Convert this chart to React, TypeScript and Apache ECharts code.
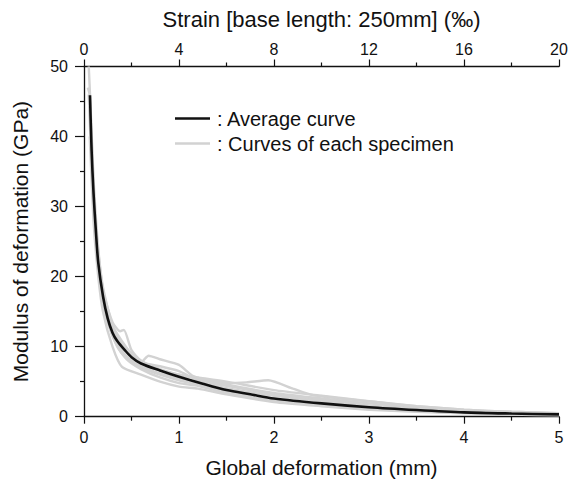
import React, { useEffect, useRef } from "react";
import * as echarts from "echarts";

const FONT = '"Liberation Sans", Arial, Helvetica, sans-serif';

// Average curve: [deformation (mm), modulus (GPa)]
const averageCurve: number[][] = [
  [0.063, 45.9], [0.08, 38], [0.1, 32], [0.125, 26.5], [0.15, 22], [0.2, 17.2],
  [0.25, 14], [0.3, 12], [0.35, 10.8], [0.43, 9.5], [0.5, 8.5], [0.6, 7.6],
  [0.8, 6.6], [1.0, 5.7], [1.25, 4.7], [1.5, 3.8], [1.75, 3.2], [2, 2.6],
  [2.5, 1.9], [3, 1.35], [3.5, 0.95], [4, 0.62], [4.5, 0.45], [5, 0.33],
];

const specimen1: number[][] = [
  [0.05, 50], [0.07, 44], [0.1, 34], [0.15, 24], [0.2, 18.5], [0.3, 13], [0.4, 10.5],
  [0.5, 9], [0.6, 7.8], [0.68, 8.7], [0.8, 8.2], [1.0, 7.4], [1.15, 5.8], [1.5, 4.6],
  [2, 3.4], [2.5, 2.6], [3, 1.9], [3.5, 1.3], [4, 0.9], [4.5, 0.6], [5, 0.45],
];
const specimen2: number[][] = [
  [0.04, 47], [0.06, 46], [0.08, 40], [0.12, 28], [0.2, 18], [0.3, 13.5], [0.38, 12.2],
  [0.42, 12.4], [0.5, 9.5], [0.6, 8], [0.8, 6.8], [1, 6], [1.2, 5.4], [1.5, 4.8],
  [1.71, 4.9], [1.94, 5.2], [2.2, 4], [2.4, 3.1], [3, 2.2], [3.5, 1.5], [4, 1],
  [4.5, 0.7], [5, 0.5],
];
const specimen3: number[][] = [
  [0.06, 40], [0.1, 28], [0.15, 20], [0.2, 15], [0.3, 10], [0.4, 7.1], [0.6, 6],
  [0.8, 5], [1, 4.3], [1.2, 4], [1.5, 3.2], [2, 2.1], [2.5, 1.5], [3, 1.0],
  [3.5, 0.7], [4, 0.5], [4.5, 0.3], [5, 0.2],
];
const specimen4: number[][] = [
  [0.07, 42], [0.1, 30], [0.15, 21], [0.2, 16], [0.3, 11.5], [0.4, 9], [0.5, 7.8],
  [0.6, 7], [0.8, 6], [1, 5.2], [1.2, 4.6], [1.5, 3.6], [2, 2.4], [2.5, 1.7],
  [3, 1.2], [3.5, 0.85], [4, 0.6], [4.5, 0.4], [5, 0.3],
];
const specimen5: number[][] = [
  [0.06, 44], [0.09, 35], [0.13, 25], [0.2, 17.5], [0.3, 12.5], [0.4, 10], [0.5, 8.8],
  [0.6, 7.6], [0.8, 6.6], [1, 6], [1.2, 5.6], [1.5, 5], [2, 3.8], [2.5, 3],
  [3, 2.2], [3.5, 1.5], [4, 1], [4.5, 0.7], [5, 0.5],
];
const specimen6: number[][] = [
  [0.08, 38], [0.12, 26], [0.18, 18], [0.25, 13.5], [0.35, 10], [0.45, 8.2], [0.6, 6.8],
  [0.8, 5.6], [1, 4.8], [1.2, 4.4], [1.5, 3.4], [2, 2.2], [2.5, 1.6], [3, 1.1],
  [3.5, 0.8], [4, 0.55], [5, 0.3],
];
const specimen7: number[][] = [
  [0.05, 46], [0.08, 36], [0.12, 27], [0.2, 18], [0.3, 13], [0.4, 10.8], [0.5, 9],
  [0.65, 7.6], [0.8, 7.2], [1, 6.5], [1.2, 5.2], [1.5, 4.4], [2, 3.2], [2.5, 2.4],
  [3, 1.6], [3.5, 1.1], [4, 0.75], [4.5, 0.5], [5, 0.35],
];
const specimen8: number[][] = [
  [0.07, 40], [0.1, 31], [0.15, 22], [0.22, 15.5], [0.3, 12], [0.4, 9.4], [0.5, 8],
  [0.6, 7.2], [0.8, 6.2], [1, 5.5], [1.3, 4.6], [1.7, 3.6], [2, 3], [2.5, 2.2],
  [3, 1.5], [3.5, 1], [4, 0.7], [4.5, 0.5], [5, 0.35],
];

const specimens = [specimen1, specimen2, specimen3, specimen4, specimen5, specimen6, specimen7, specimen8];

const legendLabels = [": Average curve", ": Curves of each specimen"];
const xAxisName = "Global deformation (mm)";
const topAxisName = "Strain [base length: 250mm] (\u2030)";
const yAxisName = "Modulus of deformation (GPa)";

export default function App() {
  const ref = useRef<HTMLDivElement>(null);
  useEffect(() => {
    if (!ref.current) return;
    const chart = echarts.init(ref.current, undefined, { renderer: "svg" });
    const axisLine = { show: true, lineStyle: { color: "#111", width: 1.3 } };
    const labelStyle = { color: "#111", fontFamily: FONT, fontSize: 16 };
    const nameStyle = { color: "#111", fontFamily: FONT, fontSize: 21 };
    const gray = "#d2d2d2";
    chart.setOption({
      animation: false,
      backgroundColor: "#fff",
      grid: { left: 84, right: 10, top: 66.5, bottom: 66.3, outerBoundsMode: "none", containLabel: false },
      xAxis: [
        {
          type: "value",
          position: "bottom",
          min: 0,
          max: 5,
          interval: 1,
          axisLine,
          axisTick: { show: true, length: 7, lineStyle: { color: "#111", width: 1.2 } },
          minorTick: { show: true, splitNumber: 2, length: 4, lineStyle: { color: "#111", width: 1.2 } },
          splitLine: { show: false },
          axisLabel: { ...labelStyle, margin: 13 },
          name: xAxisName,
          nameLocation: "middle",
          nameGap: 40,
          nameTextStyle: nameStyle,
        },
        {
          type: "value",
          position: "top",
          min: 0,
          max: 20,
          interval: 4,
          axisLine,
          axisTick: { show: true, length: 7, lineStyle: { color: "#111", width: 1.2 } },
          minorTick: { show: true, splitNumber: 2, length: 4, lineStyle: { color: "#111", width: 1.2 } },
          splitLine: { show: false },
          axisLabel: { ...labelStyle, margin: 9 },
          name: topAxisName,
          nameLocation: "middle",
          nameGap: 36,
          nameTextStyle: { ...nameStyle, fontSize: 22 },
        },
      ],
      yAxis: {
        type: "value",
        min: 0,
        max: 50,
        interval: 10,
        axisLine,
        axisTick: { show: true, length: 9, lineStyle: { color: "#111", width: 1.2 } },
        minorTick: { show: true, splitNumber: 2, length: 4, lineStyle: { color: "#111", width: 1.2 } },
        splitLine: { show: false },
        axisLabel: { ...labelStyle, margin: 16 },
        name: yAxisName,
        nameLocation: "middle",
        nameGap: 53,
        nameRotate: 90,
        nameTextStyle: nameStyle,
      },
      series: [
        ...specimens.map((d, i) => ({
          type: "line",
          name: "specimen" + (i + 1),
          xAxisIndex: 0,
          data: d,
          showSymbol: false,
          smooth: 0.2,
          lineStyle: { color: gray, width: 2.4 },
          z: 2,
        })),
        {
          type: "line",
          name: "average",
          xAxisIndex: 0,
          data: averageCurve,
          showSymbol: false,
          smooth: 0.3,
          lineStyle: { color: "#111", width: 2.6 },
          z: 5,
        },
      ],
      graphic: [
        { type: "line", shape: { x1: 175, y1: 118.5, x2: 210, y2: 118.5 }, style: { stroke: "#111", lineWidth: 2.6 } },
        { type: "line", shape: { x1: 175, y1: 143.5, x2: 210, y2: 143.5 }, style: { stroke: gray, lineWidth: 2.4 } },
        {
          type: "text",
          x: 217,
          y: 118.5,
          style: { text: legendLabels[0], font: `20px ${FONT}`, fill: "#111", verticalAlign: "middle" },
        },
        {
          type: "text",
          x: 217,
          y: 143.5,
          style: { text: legendLabels[1], font: `20px ${FONT}`, fill: "#111", verticalAlign: "middle" },
        },
      ],
    });
    return () => chart.dispose();
  }, []);
  return <div ref={ref} style={{ position: "absolute", left: 0, top: 0, width: 569, height: 483 }} />;
}
